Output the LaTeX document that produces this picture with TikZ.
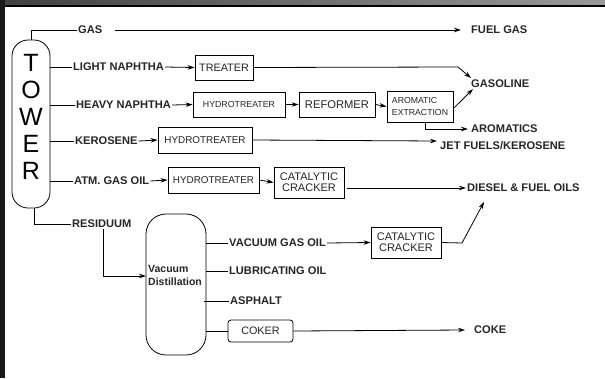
\documentclass[tikz,border=0pt]{standalone}
\usepackage{fontspec}
\setmainfont{Liberation Sans}
\usetikzlibrary{arrows.meta}
\definecolor{txt}{HTML}{262626}
\begin{document}
\begin{tikzpicture}[x=1pt,y=-1pt,
  lbl/.style={anchor=west,inner sep=1pt,text=txt,font=\bfseries\fontsize{11.1}{12}\selectfont},
  box/.style={draw,line width=0.8pt,inner sep=0pt,align=center,text=txt},
  ln/.style={line width=0.8pt},
  arr/.style={line width=0.8pt,-{Stealth[length=7pt,width=4.5pt]}}]
\useasboundingbox (0,0) rectangle (605,378);
\fill[white] (0,0) rectangle (605,378);
\shade[left color=black!75,right color=black!40] (0,0) rectangle (605,5);
\fill[black] (0,4.5) rectangle (605,7);
\fill[black!90] (0,0) rectangle (5,378);

% tower
\node[draw,line width=0.8pt,rounded corners=16pt,minimum width=38pt,minimum height=168pt,inner sep=0pt] (tower) at (31,124) {};
\node[text=black,font=\fontsize{25}{27}\selectfont,align=center,inner sep=0pt] (towertxt) at (31,117) {T\\O\\W\\E\\R};

% vacuum distillation
\node[draw,line width=0.8pt,rounded corners=20pt,minimum width=60pt,minimum height=141pt,inner sep=0pt] (vac) at (176,284.5) {};
\node[anchor=west,inner sep=0pt,align=left,text=txt,font=\bfseries\fontsize{10.5}{13}\selectfont] (vactxt) at (148,275.5) {Vacuum\\Distillation};

% labels
\node[lbl] (gas) at (77,30) {GAS};
\node[lbl] (fuelgas) at (470,30) {FUEL GAS};
\node[lbl] (lnap) at (72,67) {LIGHT NAPHTHA};
\node[lbl] (hnap) at (75,105) {HEAVY NAPHTHA};
\node[lbl] (ker) at (74,141) {KEROSENE};
\node[lbl] (atm) at (73,181) {ATM. GAS OIL};
\node[lbl] (res) at (71,224) {RESIDUUM};
\node[lbl] (gasoline) at (470,84) {GASOLINE};
\node[lbl] (arom) at (470,129) {AROMATICS};
\node[lbl] (jet) at (439,146) {JET FUELS/KEROSENE};
\node[lbl] (diesel) at (466,188) {DIESEL \& FUEL OILS};
\node[lbl] (vgo) at (228,243) {VACUUM GAS OIL};
\node[lbl] (lube) at (228,271) {LUBRICATING OIL};
\node[lbl] (asph) at (229,301) {ASPHALT};
\node[lbl] (coke) at (473,330) {COKE};

% boxes
\node[box,minimum width=58pt,minimum height=25pt,font=\fontsize{10.8}{12}\selectfont] (treater) at (224,67.5) {TREATER};
\node[box,minimum width=92pt,minimum height=25pt,font=\fontsize{8.8}{10}\selectfont] (hydroA) at (239,104.5) {HYDROTREATER};
\node[box,minimum width=76pt,minimum height=25pt,font=\fontsize{11.2}{12}\selectfont] (reformer) at (337,104.5) {REFORMER};
\node[box,minimum width=66pt,minimum height=31pt,font=\fontsize{8.7}{11.5}\selectfont,align=left] (aromext) at (420,106.5) {AROMATIC\\EXTRACTION};
\node[box,minimum width=94pt,minimum height=26pt,font=\fontsize{9.9}{11}\selectfont] (hydroB) at (205,140) {HYDROTREATER};
\node[box,minimum width=91pt,minimum height=26pt,font=\fontsize{9.9}{11}\selectfont] (hydroC) at (213.5,180) {HYDROTREATER};
\node[box,minimum width=70pt,minimum height=31pt,font=\fontsize{11}{11}\selectfont] (catA) at (309,182.5) {CATALYTIC\\CRACKER};
\node[box,minimum width=70pt,minimum height=31pt,font=\fontsize{11}{11}\selectfont] (catB) at (406,242.5) {CATALYTIC\\CRACKER};
\node[box,rounded corners=3pt,minimum width=65pt,minimum height=22pt,font=\fontsize{10.8}{12}\selectfont] (coker) at (260.5,331) {COKER};

% helper coordinates
\coordinate (gA) at (458,67);
\coordinate (gB) at (471,78);
\coordinate (gC) at (473,89);
\coordinate (jA) at (437,141);
\coordinate (dA) at (462,243);
\coordinate (dB) at (484,202);
\coordinate (vin) at (146,276);

% gas
\draw[ln] (tower.north) |- (gas.west);
\draw[arr] ([xshift=12pt]gas.east) -- ([xshift=-9pt]fuelgas.west);
% light naphtha
\draw[ln] (tower.east |- lnap.west) -- (lnap.west);
\draw[arr] (lnap.east) -- (treater.west);
\draw[arr] (treater.east) -- (gA) -- (gB);
% heavy naphtha
\draw[ln] (tower.east |- hnap.west) -- (hnap.west);
\draw[arr] (hnap.east) -- (hydroA.west);
\draw[arr] (hydroA.east) -- (reformer.west);
\draw[arr] (reformer.east) -- (aromext.west);
\draw[arr] ([yshift=-2pt]aromext.east) -- (gC);
\draw[arr] ([xshift=5pt]aromext.south) |- ([xshift=-2pt]arom.west);
% kerosene
\draw[ln] (tower.east |- ker.west) -- (ker.west);
\draw[arr] (ker.east) -- (hydroB.west);
\draw[arr] (hydroB.east) -- (jA);
% atm gas oil
\draw[ln] (tower.east |- atm.west) -- (atm.west);
\draw[arr] (atm.east) -- (hydroC.west);
\draw[arr] (hydroC.east) -- (catA.west);
\draw[arr] ([xshift=3pt]catA.east |- diesel.west) -- (diesel.west);
% residuum
\draw[ln] ([xshift=3pt]tower.south) |- (res.west);
\draw[arr] ([xshift=1.5pt]res.south) |- (vin);
% vacuum outputs
\draw[ln] (vac.east |- vgo.west) -- (vgo.west);
\draw[arr] (vgo.east) -- (catB.west);
\draw[arr] (catB.east) -- (dA) -- (dB);
\draw[ln] (vac.east |- lube.west) -- (lube.west);
\draw[ln] ([xshift=-2pt]vac.east |- asph.west) -- (asph.west);
\draw[ln] (vac.east |- coker.west) -- (coker.west);
\draw[arr] (coker.east) -- ([xshift=-8pt]coke.west);
\end{tikzpicture}
\end{document}
